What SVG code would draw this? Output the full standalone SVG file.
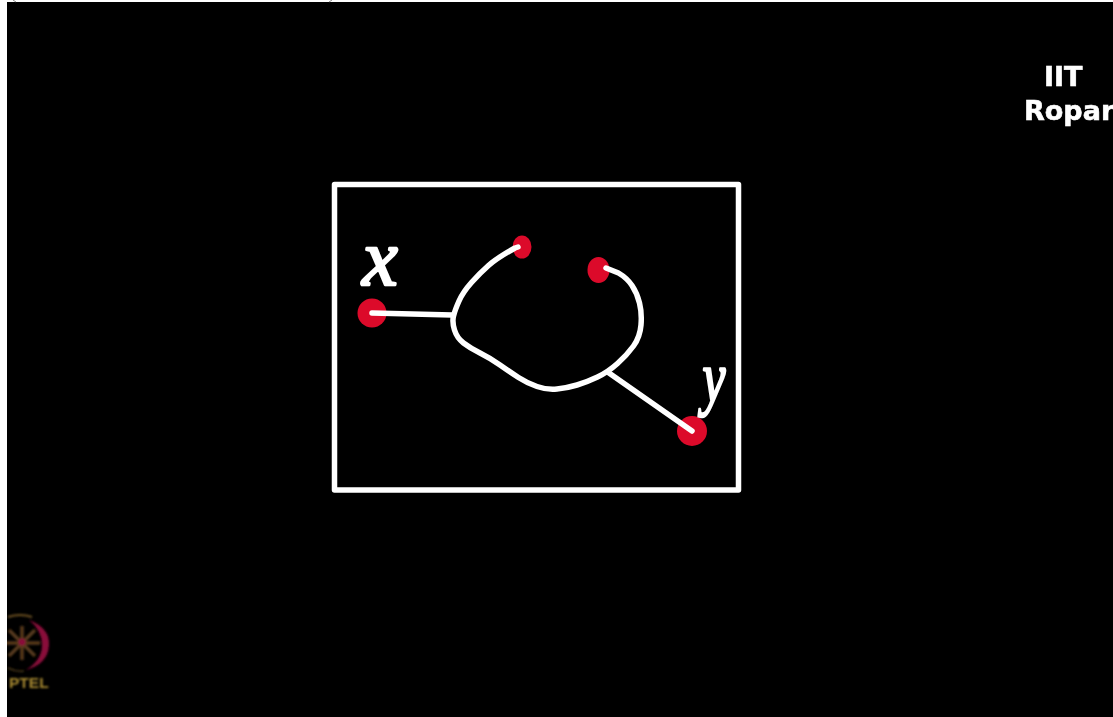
<svg xmlns="http://www.w3.org/2000/svg" width="1113" height="717" viewBox="0 0 1113 717">
  <style>
    .ink { fill: none; stroke: #fff; stroke-width: 5.5; stroke-linecap: round; stroke-linejoin: round; }
    .dot { fill: #dc0a2a; }
    .hand { font-family: "Liberation Serif", serif; font-style: italic; fill: #fff; stroke: #fff; stroke-width: 2.5; stroke-linejoin: round; }
    .brand { font-family: "DejaVu Sans", sans-serif; font-weight: bold; fill: #fff; stroke: #fff; stroke-width: 0.6; font-size: 27px; }
  </style>
  <defs>
    <filter id="soft" x="-10%" y="-10%" width="120%" height="120%"><feGaussianBlur stdDeviation="0.8"/></filter>
    <filter id="faint" x="-10%" y="-10%" width="120%" height="120%"><feGaussianBlur stdDeviation="0.5"/></filter>
    <clipPath id="frame"><rect x="7" y="2" width="1106" height="715"/></clipPath>
  </defs>
  <rect width="1113" height="717" fill="#fff"/>
  <rect x="7" y="2" width="1106" height="715" fill="#000"/>
  <path d="M13 0 L16 2 M332 0 L329 2" stroke="#888" stroke-width="1" fill="none"/>

  <g id="frame-box"><rect x="334.500" y="184.500" width="404" height="305.500" fill="none" stroke="#fff" stroke-width="5.500" stroke-linejoin="round" filter="url(#faint)"/></g>

  <g id="node-x"><circle class="dot" cx="372" cy="313" r="14.500"/><text class="hand" x="380" y="285" font-size="80" text-anchor="middle" filter="url(#faint)">x</text></g>
  <g id="node-a"><ellipse class="dot" cx="522" cy="247" rx="9.500" ry="11.500"/></g>
  <g id="node-b"><ellipse class="dot" cx="598.500" cy="270" rx="11" ry="13"/></g>
  <g id="node-y"><circle class="dot" cx="692" cy="431" r="15"/><text class="hand" transform="translate(714,402) scale(0.68,0.95)" x="0" y="0" font-size="76" text-anchor="middle" filter="url(#faint)">y</text></g>

  <g id="connectors" filter="url(#faint)">
    <path class="ink" d="M372 313 L452 315"/>
    <path class="ink" d="M692 431 L609 373"/>
    <path class="ink" d="M518 247 L515 248 Q497 258 488.500 265.500 Q480 273 471.500 282.500 Q463 292 459 301 Q455 310 453.500 316 Q452 322 454.500 330 Q457 338 463.500 343 Q470 348 480 353 Q490 358 500 365 Q510 372 518.500 377.500 Q527 383 537 386.500 Q547 390 557 389 Q567 388 577 385 Q587 382 597.500 377 Q608 372 617.500 363.500 Q627 355 633.500 346 Q640 337 641 325 Q642 313 639.500 303 Q637 293 632 285.500 Q627 278 618.500 273 L606 268"/>
  </g>

  <g id="iit-ropar" filter="url(#faint)">
    <text class="brand" x="1044" y="86">IIT</text>
    <text class="brand" x="1024" y="120">Ropar</text>
  </g>

  <g id="nptel-logo" clip-path="url(#frame)">
    <g filter="url(#soft)">
      <path d="M29 620 Q50 628 49 645 Q48 664 26 670 Q42 660 42 645 Q42 630 29 620Z" fill="#8a0a3a"/>
      <path d="M8 617 Q20 613 32 617" fill="none" stroke="#6b5020" stroke-width="2"/>
      <path d="M8 668 Q16 672 24 671" fill="none" stroke="#4a3818" stroke-width="1.500"/>
      <path d="M22 626V660M4 643H40M9 630L35 656M35 630L9 656" stroke="#5a3a1c" stroke-width="3.500" fill="none"/>
      <circle cx="22" cy="642" r="3.500" fill="#8a0a3a"/>
      <text x="9" y="688" font-family="Liberation Sans, Arial, sans-serif" font-weight="bold" font-size="15.500" fill="#a88a30">PTEL</text>
    </g>
  </g>
</svg>
